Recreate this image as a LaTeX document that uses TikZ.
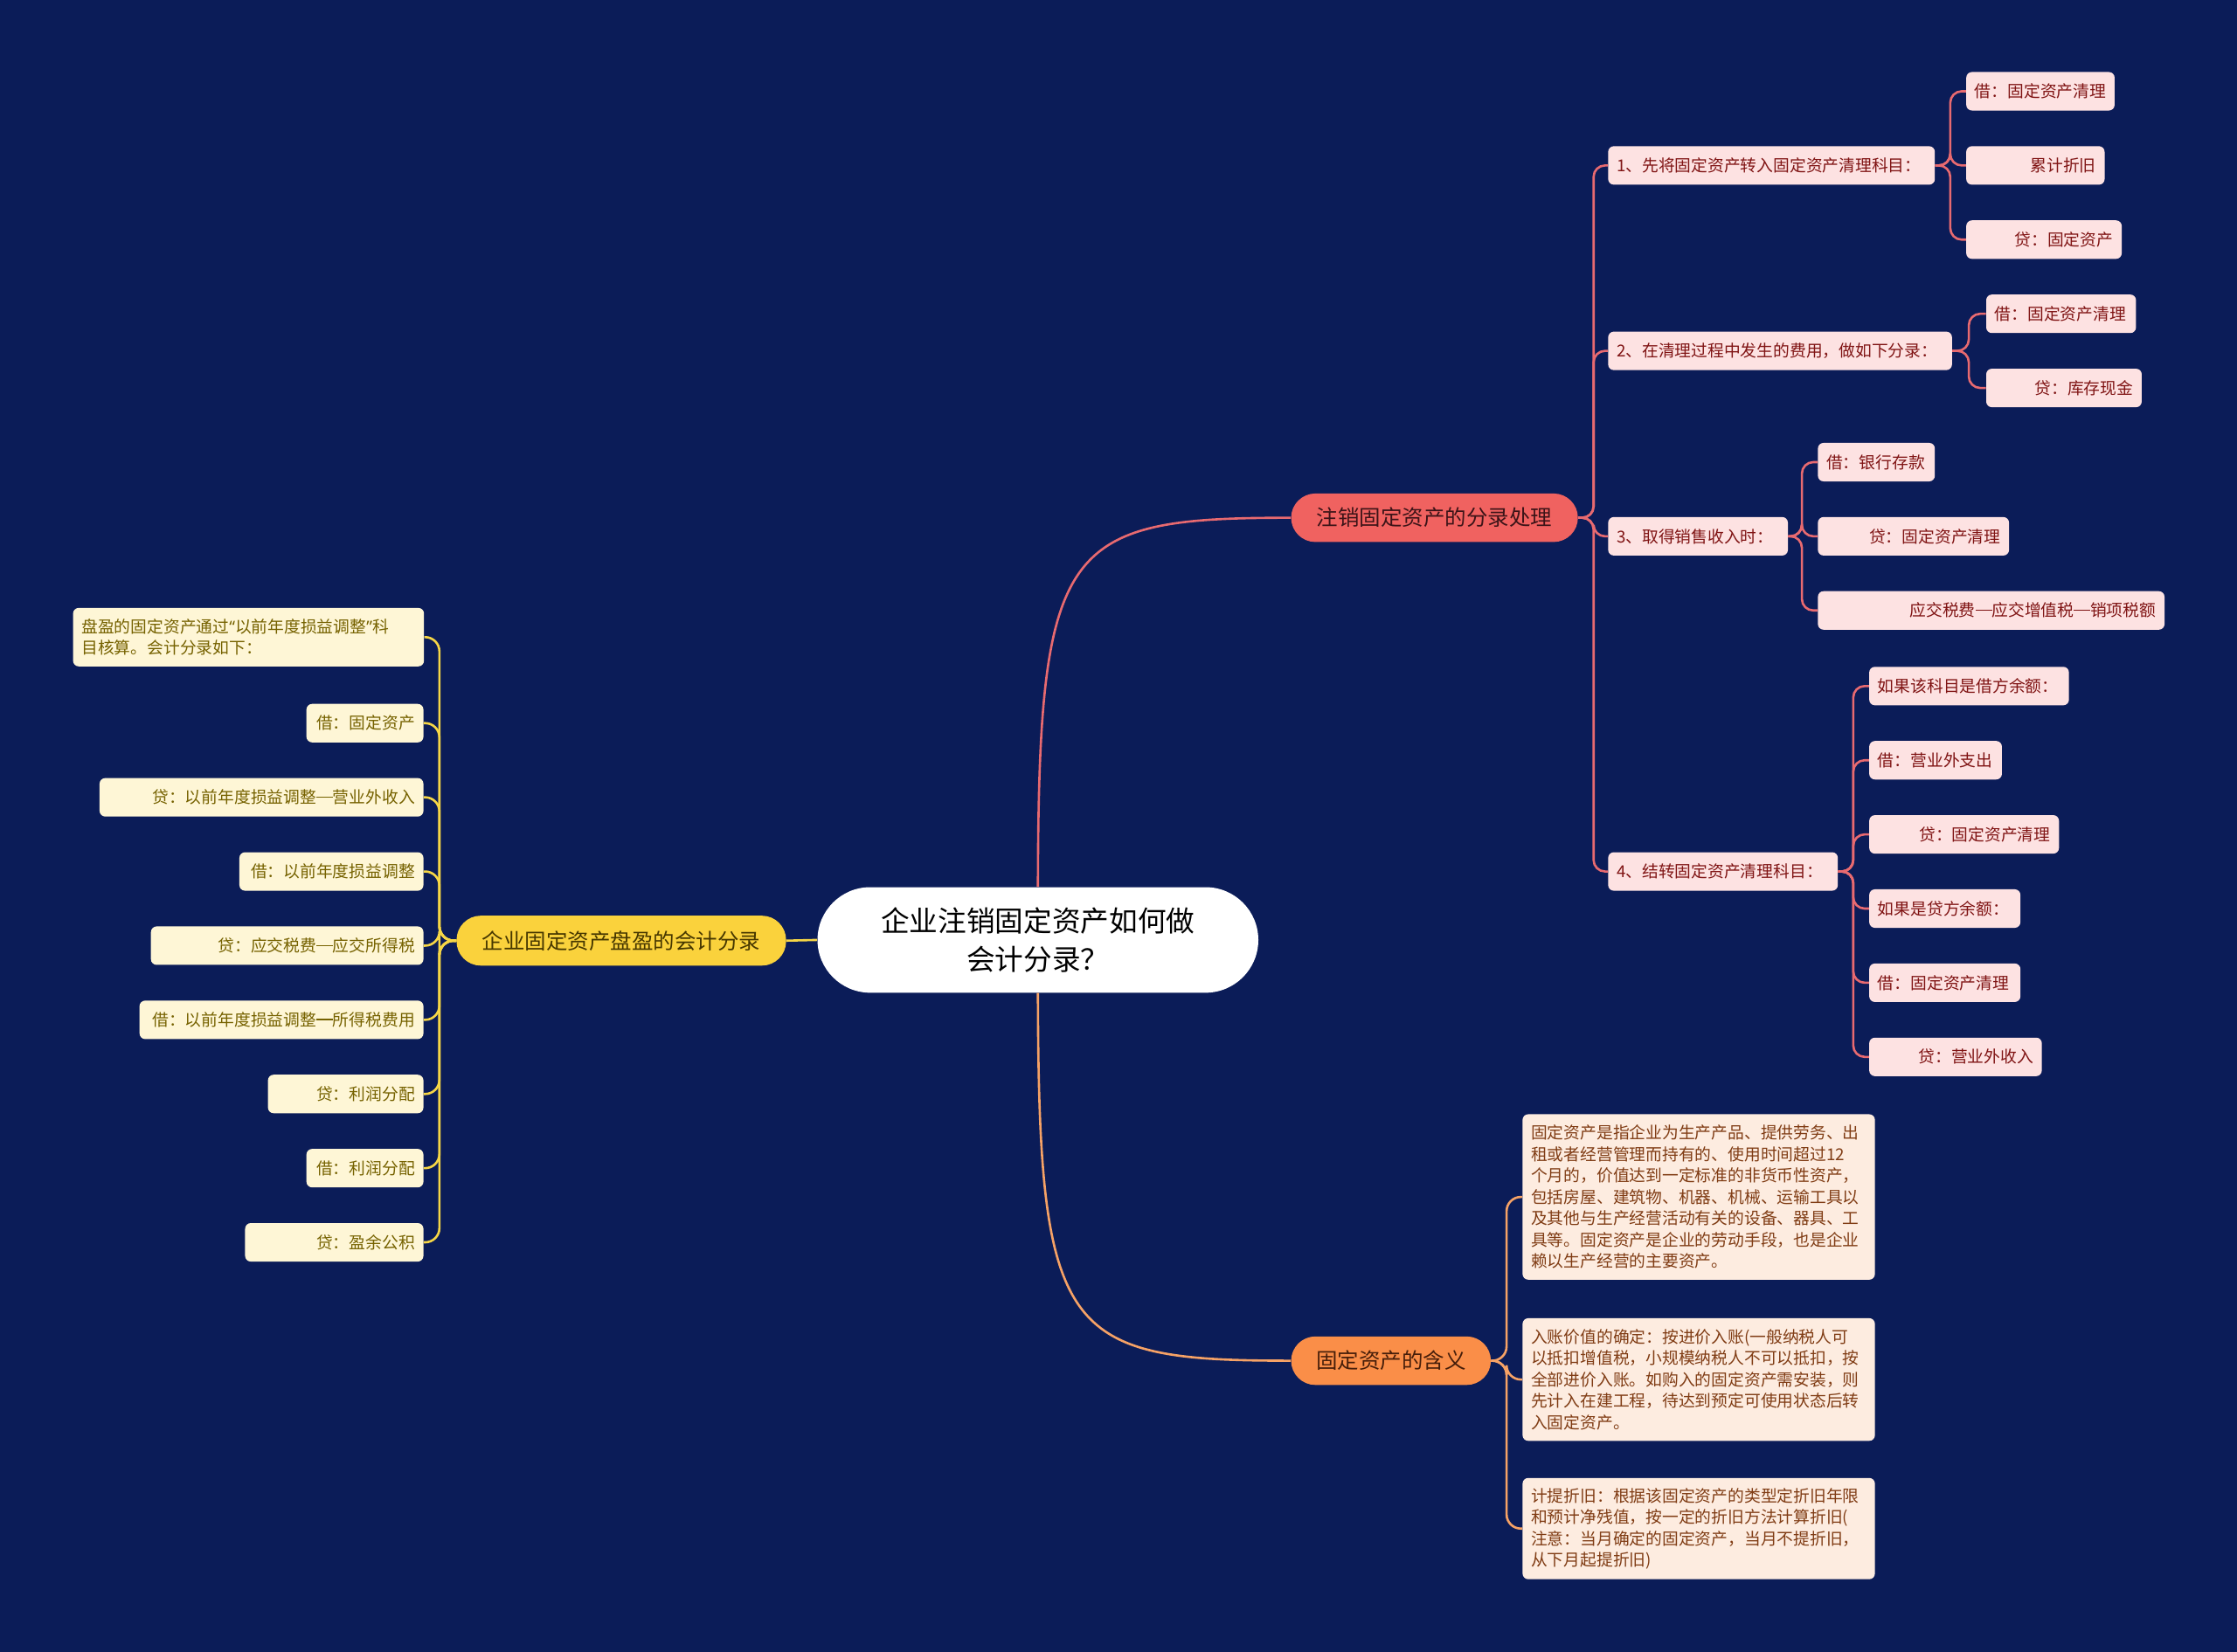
\documentclass[tikz,border=0pt]{standalone}
\usepackage{fontspec}
\setmainfont{Noto Sans CJK SC}
\newfontfamily\latinq{Noto Sans}
\newcommand\kdash{\rule[0.36em]{1em}{0.07em}}
\definecolor{bg}{RGB}{11,28,88}
\definecolor{rmain}{RGB}{240,98,96}
\definecolor{rmaintext}{RGB}{60,20,24}
\definecolor{rleaffill}{RGB}{253,226,226}
\definecolor{rleaftext}{RGB}{128,20,20}
\definecolor{rline}{RGB}{232,106,112}
\definecolor{omain}{RGB}{250,142,72}
\definecolor{omaintext}{RGB}{70,30,10}
\definecolor{oleaffill}{RGB}{253,236,224}
\definecolor{oleaftext}{RGB}{128,60,20}
\definecolor{oline}{RGB}{246,162,102}
\definecolor{ymain}{RGB}{250,210,60}
\definecolor{ymaintext}{RGB}{70,55,0}
\definecolor{yleaffill}{RGB}{254,246,214}
\definecolor{yleaftext}{RGB}{118,98,0}
\definecolor{yline}{RGB}{246,214,70}
\begin{document}
\begin{tikzpicture}[x=1pt,y=-1pt,
  base/.style={font=\fontsize{11.5}{15}\selectfont, inner xsep=6pt, inner ysep=0pt, minimum height=27pt, rounded corners=4pt},
  rleaf/.style={base, fill=rleaffill, text=rleaftext},
  oleaf/.style={base, fill=oleaffill, text=oleaftext, inner ysep=5pt, text width=235pt, align=left, anchor=north west},
  yleaf/.style={base, fill=yleaffill, text=yleaftext},
  mainnode/.style={font=\fontsize{15}{18}\selectfont, inner sep=0pt, minimum height=34pt, rounded corners=17pt},
  rconn/.style={draw=rline, line width=1.6pt, rounded corners=8pt},
  oconn/.style={draw=oline, line width=1.6pt, rounded corners=10pt},
  yconn/.style={draw=yline, line width=1.6pt, rounded corners=10pt},
]
\fill[bg] (0,0) rectangle (1568,1158);
\useasboundingbox (0,0) rectangle (1568,1158);

% central
\node[fill=white, text=black, font=\fontsize{20}{27}\selectfont, align=center,
      minimum width=309pt, minimum height=74pt, rounded corners=37pt, inner sep=0pt]
  (c) at (727.5,659) {企业注销固定资产如何做\\会计分录？};

% main branches
\node[mainnode, fill=rmain, text=rmaintext, minimum width=201pt] (rm) at (1005.5,363) {注销固定资产的分录处理};
\node[mainnode, fill=omain, text=omaintext, minimum width=140pt] (om) at (975,954) {固定资产的含义};
\node[mainnode, fill=ymain, text=ymaintext, minimum width=231pt, minimum height=35pt] (ym) at (435.5,659.5) {企业固定资产盘盈的会计分录};

% red level 2
\node[rleaf,anchor=west] (r1) at (1127,116) {\makebox[217pt][l]{1、先将固定资产转入固定资产清理科目：}};
\node[rleaf,anchor=west] (r2) at (1127,246) {\makebox[229pt][l]{2、在清理过程中发生的费用，做如下分录：}};
\node[rleaf,anchor=west] (r3) at (1127,376) {\makebox[114pt][l]{3、取得销售收入时：}};
\node[rleaf,anchor=west] (r4) at (1127,611) {\makebox[149pt][l]{4、结转固定资产清理科目：}};

% red leaves
\node[rleaf,anchor=west] (r11) at (1378,64) {\makebox[92pt][l]{借：固定资产清理}};
\node[rleaf,anchor=west] (r12) at (1378,116) {\makebox[85pt][r]{累计折旧}};
\node[rleaf,anchor=west] (r13) at (1378,168) {\makebox[97pt][r]{贷：固定资产}};
\node[rleaf,anchor=west] (r21) at (1392,220) {\makebox[93pt][l]{借：固定资产清理}};
\node[rleaf,anchor=west] (r22) at (1392,272) {\makebox[97pt][r]{贷：库存现金}};
\node[rleaf,anchor=west] (r31) at (1274,324) {\makebox[70pt][l]{借：银行存款}};
\node[rleaf,anchor=west] (r32) at (1274,376) {\makebox[122pt][r]{贷：固定资产清理}};
\node[rleaf,anchor=west] (r33) at (1274,428) {\makebox[231pt][r]{应交税费\kdash 应交增值税\kdash 销项税额}};
\node[rleaf,anchor=west] (r41) at (1310,481) {\makebox[128pt][l]{如果该科目是借方余额：}};
\node[rleaf,anchor=west] (r42) at (1310,533) {\makebox[81pt][l]{借：营业外支出}};
\node[rleaf,anchor=west] (r43) at (1310,585) {\makebox[121pt][r]{贷：固定资产清理}};
\node[rleaf,anchor=west] (r44) at (1310,637) {\makebox[94pt][l]{如果是贷方余额：}};
\node[rleaf,anchor=west] (r45) at (1310,689) {\makebox[94pt][l]{借：固定资产清理}};
\node[rleaf,anchor=west] (r46) at (1310,741) {\makebox[109pt][r]{贷：营业外收入}};

% orange leaves
\node[oleaf, minimum height=116pt] (o1) at (1067,781) {固定资产是指企业为生产产品、提供劳务、出\\租或者经营管理而持有的、使用时间超过12\\个月的，价值达到一定标准的非货币性资产，\\包括房屋、建筑物、机器、机械、运输工具以\\及其他与生产经营活动有关的设备、器具、工\\具等。固定资产是企业的劳动手段，也是企业\\赖以生产经营的主要资产。};
\node[oleaf, minimum height=86pt] (o2) at (1067,924) {入账价值的确定：按进价入账(一般纳税人可\\以抵扣增值税，小规模纳税人不可以抵扣，按\\全部进价入账。如购入的固定资产需安装，则\\先计入在建工程，待达到预定可使用状态后转\\入固定资产。};
\node[oleaf, minimum height=71pt] (o3) at (1067,1036) {计提折旧：根据该固定资产的类型定折旧年限\\和预计净残值，按一定的折旧方法计算折旧(\\注意：当月确定的固定资产，当月不提折旧，\\从下月起提折旧)};

% yellow leaves
\node[yleaf, anchor=north west, text width=234pt, align=left, minimum height=41pt, inner ysep=4pt] (y0) at (51,426) {盘盈的固定资产通过{\latinq “}以前年度损益调整{\latinq ”}科\\目核算。会计分录如下：};
\node[yleaf,anchor=east] (y1) at (297,507) {\makebox[70pt][r]{借：固定资产}};
\node[yleaf,anchor=east] (y2) at (297,559) {\makebox[215pt][r]{贷：以前年度损益调整\kdash 营业外收入}};
\node[yleaf,anchor=east] (y3) at (297,611) {\makebox[117pt][r]{借：以前年度损益调整}};
\node[yleaf,anchor=east] (y4) at (297,663) {\makebox[179pt][r]{贷：应交税费\kdash 应交所得税}};
\node[yleaf,anchor=east] (y5) at (297,715) {\makebox[187pt][r]{借：以前年度损益调整\kdash 所得税费用}};
\node[yleaf,anchor=east] (y6) at (297,767) {\makebox[97pt][r]{贷：利润分配}};
\node[yleaf,anchor=east] (y7) at (297,819) {\makebox[70pt][r]{借：利润分配}};
\node[yleaf,anchor=east] (y8) at (297,871) {\makebox[113pt][r]{贷：盈余公积}};

% connectors: central to main
\draw[draw=rline, line width=1.6pt] (c.north) .. controls (728,380) and (745,363) .. (rm.west);
\draw[draw=oline, line width=1.6pt] (c.south) .. controls (728,937) and (745,954) .. (om.west);
\draw[draw=yline, line width=1.6pt] (c.west) -- (ym.east);

% red level 2
\foreach \n in {r1,r2,r3,r4} \draw[rconn] (rm.east) -- (1117,363) |- (\n.west);
% red level 3
\foreach \n in {r11,r12,r13} \draw[rconn] (r1.east) -- (1367,116) |- (\n.west);
\foreach \n in {r21,r22} \draw[rconn] (r2.east) -- (1380,246) |- (\n.west);
\foreach \n in {r31,r32,r33} \draw[rconn] (r3.east) -- (1263,376) |- (\n.west);
\foreach \n in {r41,r42,r43,r44,r45,r46} \draw[rconn] (r4.east) -- (1299,611) |- (\n.west);

% orange
\foreach \n in {o1,o2,o3} \draw[oconn] (om.east) -- (1056,954) |- (\n.west);

% yellow
\foreach \n in {y0,y1,y2,y3,y4,y5,y6,y7,y8} \draw[yconn] (ym.west) -- (308,659.5) |- (\n.east);
\end{tikzpicture}
\end{document}
